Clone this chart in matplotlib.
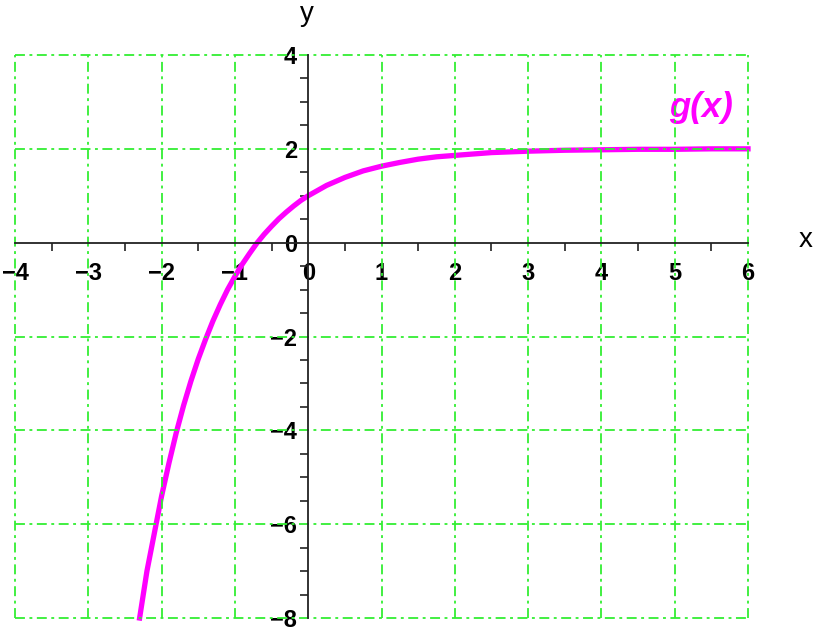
import numpy as np
import matplotlib.pyplot as plt

# curve g(x), values
x_vals = [-2.3, -2.2, -2.1, -2.0, -1.9, -1.8, -1.7, -1.6, -1.5, -1.4, -1.3, -1.2,
          -1.1, -1.0, -0.9, -0.8, -0.7, -0.6, -0.5, -0.4, -0.3, -0.2, -0.1, 0.0,
          0.25, 0.5, 0.75, 1.0, 1.25, 1.5, 1.75, 2.0, 2.5, 3.0, 3.5, 4.0, 4.5, 5.0, 5.5, 6.0]
y_vals = [-8.0, -7.0, -6.2, -5.4, -4.7, -4.05, -3.47, -2.95, -2.48, -2.06, -1.67, -1.32,
          -1.0, -0.72, -0.46, -0.23, -0.01, 0.18, 0.35, 0.51, 0.65, 0.78, 0.90, 1.0,
          1.22, 1.39, 1.53, 1.63, 1.71, 1.78, 1.83, 1.86, 1.92, 1.95, 1.97, 1.98, 1.99, 1.99, 2.0, 2.0]

x_ticks = [-4, -3, -2, -1, 0, 1, 2, 3, 4, 5, 6]
y_ticks = [-8, -6, -4, -2, 0, 2, 4]

plt.rcParams['font.family'] = ['Liberation Sans', 'DejaVu Sans']

fig = plt.figure(figsize=(8.15, 6.3), dpi=100)
ax = fig.add_axes([0.0184, 0.019, 0.8994, 0.8937])
ax.set_xlim(-4, 6)
ax.set_ylim(-8, 4)

# green dash-dot grid, drawn over the curve like the original
green = '#33ee33'
dash = (0, (5.5, 2.5, 1.6, 2.5))
for xv in x_ticks:
    if xv != 0:
        ax.plot([xv, xv], [-8, 4], color=green, lw=1.3, ls=dash, clip_on=False, zorder=4)
for yv in y_ticks:
    if yv != 0:
        ax.plot([-4, 6], [yv, yv], color=green, lw=1.3, ls=dash, clip_on=False, zorder=4)

# axes through origin
for s in ['top', 'right']:
    ax.spines[s].set_visible(False)
ax.spines['left'].set_position(('data', 0))
ax.spines['bottom'].set_position(('data', 0))
for s in ['left', 'bottom']:
    ax.spines[s].set_color('#222222')
    ax.spines[s].set_linewidth(1.3)
    ax.spines[s].set_zorder(5)

ax.set_xticks(x_ticks)
ax.set_xticklabels([str(v) if v >= 0 else '\u2212' + str(-v) for v in x_ticks])
ax.set_yticks(y_ticks)
ax.set_yticklabels([str(v) if v >= 0 else '\u2212' + str(-v) for v in y_ticks])
ax.set_xticks(np.arange(-3.5, 6, 1.0), minor=True)
ax.set_yticks([v for v in np.arange(-7.5, 4, 0.5) if v % 2 != 0], minor=True)
ax.tick_params(which='major', length=0, labelsize=17)
ax.tick_params(axis='x', which='major', pad=14)
ax.tick_params(axis='y', which='major', pad=8)
ax.tick_params(which='minor', length=6, width=1.2, color='#222222', direction='out')
for lab in ax.get_xticklabels() + ax.get_yticklabels():
    lab.set_clip_on(False)
    lab.set_fontweight('bold')

ax.plot(x_vals, y_vals, color='#ff00ff', lw=3.8, zorder=3, clip_on=False)

ax.text(5.36, 2.88, 'g(x)', color='#ff00ff', fontsize=25, fontweight='bold',
        fontstyle='italic', ha='center', va='center')

fig.text(307 / 815, 1 - 14 / 630, 'y', fontsize=20, ha='center', va='center')
fig.text(806 / 815, 1 - 240 / 630, 'x', fontsize=20, ha='center', va='center')

fig.savefig('out.png', dpi=100)
